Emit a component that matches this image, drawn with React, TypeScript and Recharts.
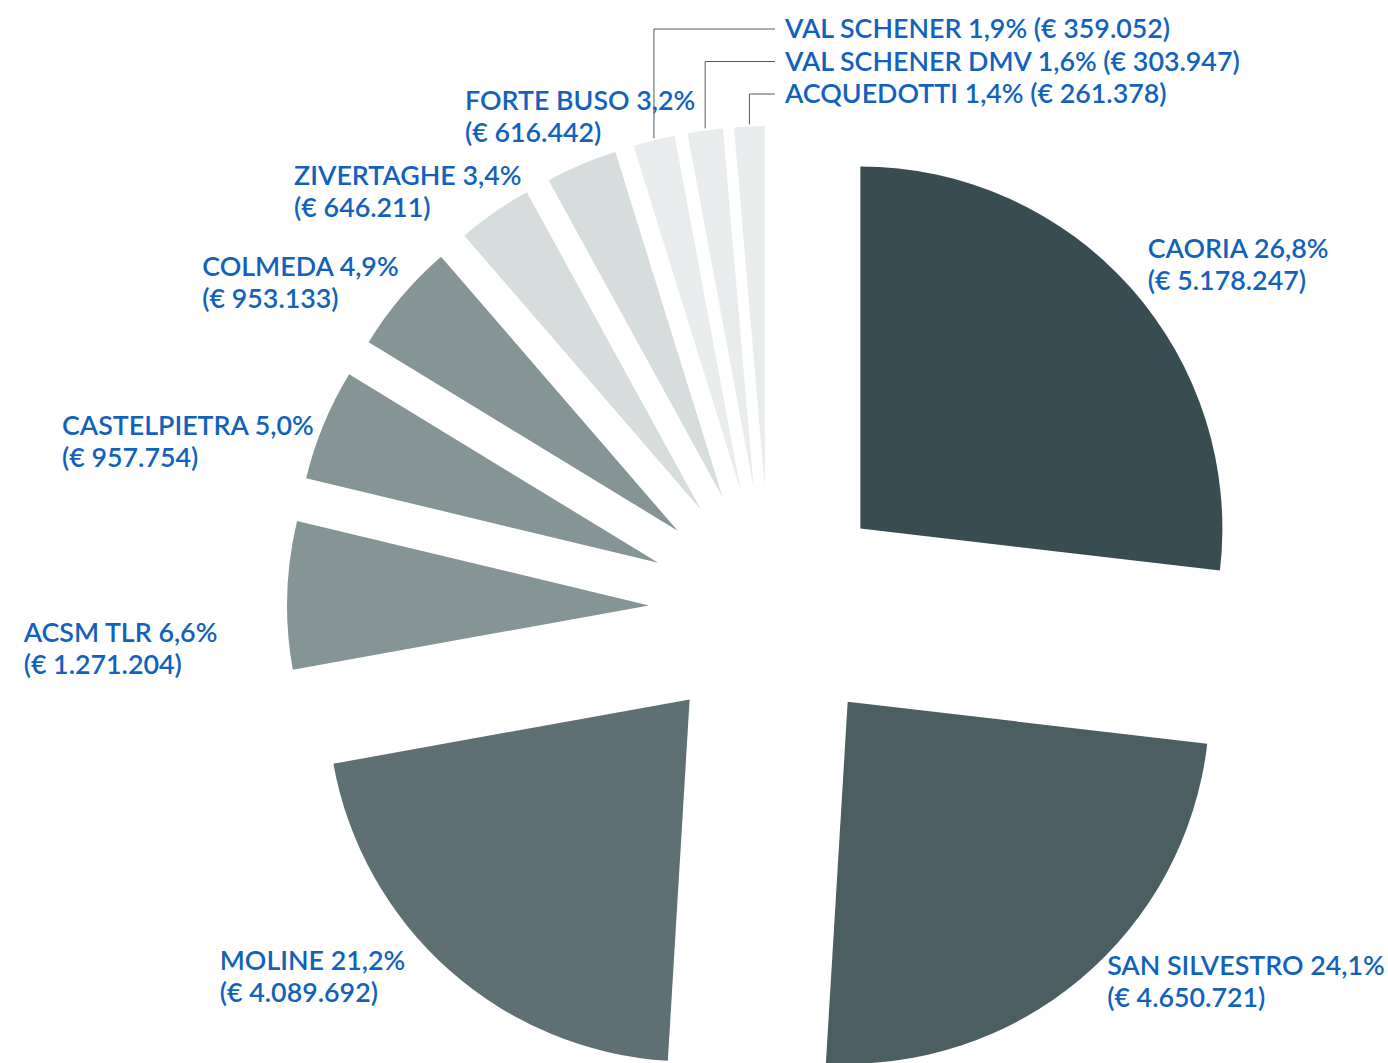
import React from "react";
import { PieChart, Pie, Cell, Sector, Tooltip } from "recharts";

const sites = [
  "CAORIA",
  "SAN SILVESTRO",
  "MOLINE",
  "ACSM TLR",
  "CASTELPIETRA",
  "COLMEDA",
  "ZIVERTAGHE",
  "FORTE BUSO",
  "VAL SCHENER",
  "VAL SCHENER DMV",
  "ACQUEDOTTI",
];

// amounts in euro, as printed on the labels
const amounts = [5178247, 4650721, 4089692, 1271204, 957754, 953133, 646211, 616442, 359052, 303947, 261378];

const sliceColors = [
  "#374d51",
  "#4b5f62",
  "#5e7073",
  "#859495",
  "#859495",
  "#859495",
  "#d7dddd",
  "#d7dddd",
  "#e9ecec",
  "#e9ecec",
  "#e9ecec",
];

const total = amounts.reduce((s, v) => s + v, 0);
const data = sites.map((name, i) => ({ name, value: amounts[i] }));

const RADIAN = Math.PI / 180;
const EXPLODE = 121;
const FONT = "Lato, 'Noto Sans', sans-serif";
const FONT_SIZE = 26.8;
const FONT_WEIGHT = 600;
const LINE_GAP = 32;
const LABEL_BLUE = "#1262bd";
const CALLOUT_TOP = 38;
const CALLOUT_STEP = 32.5;

// where each label sits, relative to the rim point of its exploded slice
const labelPlacement: [string, number, number][] = [
  ["right", 17, -30],
  ["right", 27, -4],
  ["left", -44, 0],
  ["left", -69, 47],
  ["left", -9, 10],
  ["left", -2, -21],
  ["left", 27, -27],
  ["left", 114, -54],
  ["callout", 0, 0],
  ["callout", 0, 0],
  ["callout", 0, 0],
];

const pct = (v: number) => ((v / total) * 100).toFixed(1).replace(".", ",") + "%";
const euro = (v: number) => "€ " + String(v).replace(/\B(?=(\d{3})+(?!\d))/g, ".");

let measureCtx: CanvasRenderingContext2D | null = null;
function textWidth(s: string) {
  if (!measureCtx) measureCtx = document.createElement("canvas").getContext("2d");
  if (!measureCtx) return s.length * FONT_SIZE * 0.55;
  measureCtx.font = `${FONT_WEIGHT} ${FONT_SIZE}px Lato`;
  return measureCtx.measureText(s).width;
}

function renderSlice(props: any) {
  const { cx, cy, midAngle } = props;
  const a = -midAngle * RADIAN;
  return (
    <Sector
      {...props}
      cx={cx + EXPLODE * Math.cos(a)}
      cy={cy + EXPLODE * Math.sin(a)}
      stroke="none"
    />
  );
}

function renderLabel(props: any) {
  const { cx, cy, midAngle, outerRadius, index } = props;
  const [kind, dx, dy] = labelPlacement[index];
  const r = outerRadius + EXPLODE;
  const a = -midAngle * RADIAN;
  const px = cx + r * Math.cos(a);
  const py = cy + r * Math.sin(a);
  const head = `${sites[index]} ${pct(amounts[index])}`;
  const tail = `(${euro(amounts[index])})`;
  const textStyle = { fontFamily: FONT, fontSize: FONT_SIZE, fontWeight: FONT_WEIGHT };

  if (kind === "callout") {
    const order = index - labelPlacement.findIndex((p) => p[0] === "callout");
    const baseline = CALLOUT_TOP + order * CALLOUT_STEP;
    const tx = cx + 15;
    return (
      <g key={`lbl-${index}`}>
        <polyline
          points={`${px},${py - 2} ${px},${baseline - 9} ${tx - 10},${baseline - 9}`}
          fill="none"
          stroke="#4f5b5d"
          strokeWidth={1}
        />
        <text x={tx} y={baseline} fill={LABEL_BLUE} textAnchor="start" style={textStyle}>
          {`${head} ${tail}`}
        </text>
      </g>
    );
  }

  const left = kind === "right" ? px + dx : px + dx - textWidth(head);
  const baseline = py + dy;
  return (
    <text key={`lbl-${index}`} x={left} y={baseline} fill={LABEL_BLUE} textAnchor="start" style={textStyle}>
      <tspan x={left} y={baseline}>{head}</tspan>
      <tspan x={left} y={baseline + LINE_GAP}>{tail}</tspan>
    </text>
  );
}

export default function App() {
  return (
    <div style={{ position: "absolute", left: 0, top: 0, width: 1388, height: 1063, background: "#fff" }}>
      <PieChart width={1388} height={1063} margin={{ top: 0, right: 0, bottom: 0, left: 0 }}>
        <Tooltip defaultIndex={0} content={() => null} cursor={false} />
        <Pie
          data={data}
          dataKey="value"
          nameKey="name"
          cx={770}
          cy={609}
          innerRadius={0}
          outerRadius={362}
          startAngle={90}
          endAngle={-270}
          stroke="none"
          shape={renderSlice}
          activeShape={renderSlice}
          inactiveShape={renderSlice}
          label={renderLabel}
          labelLine={false}
          isAnimationActive={false}
        >
          {data.map((d, i) => (
            <Cell key={d.name} fill={sliceColors[i]} />
          ))}
        </Pie>
      </PieChart>
    </div>
  );
}
